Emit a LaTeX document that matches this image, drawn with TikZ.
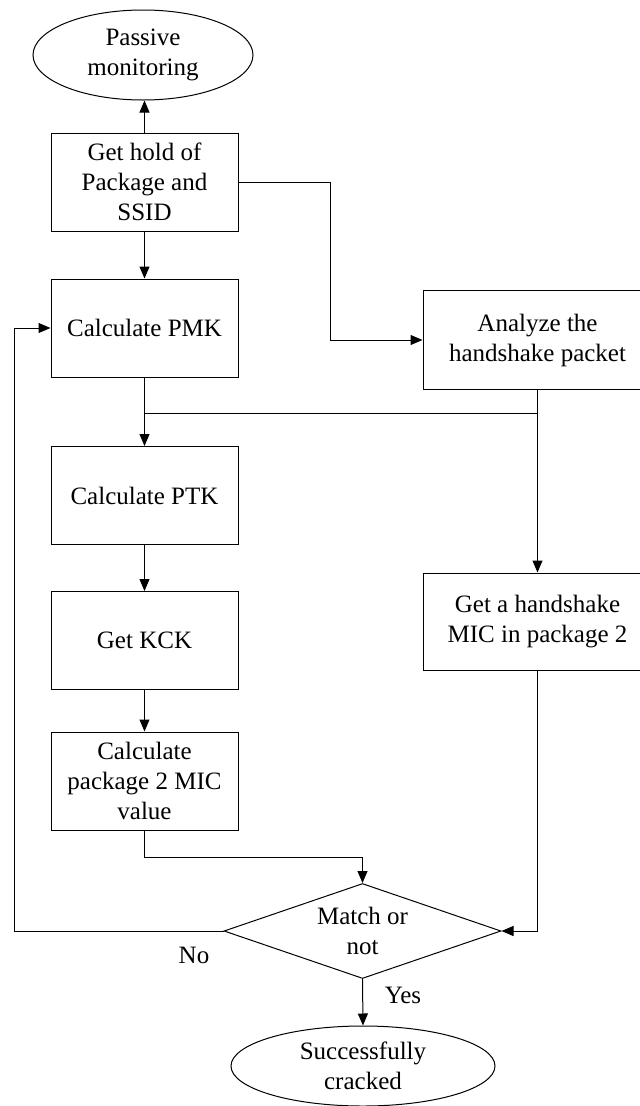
\documentclass[tikz,border=0pt]{standalone}
\usepackage{fontspec}
\setmainfont{Liberation Serif}
\usetikzlibrary{shapes.geometric,arrows.meta}
\begin{document}
\begin{tikzpicture}[x=1pt,y=1pt,
  every node/.style={font=\fontsize{25}{30}\selectfont, align=center, inner sep=0pt},
  boxl/.style={draw, line width=1pt, minimum width=187pt, minimum height=98pt},
  boxr/.style={draw, line width=1pt, minimum width=229pt, minimum height=99pt},
  oval/.style={draw, ellipse, line width=1pt},
  decide/.style={draw, diamond, line width=1pt, minimum width=277pt, minimum height=95pt, shape aspect=2.9},
  link/.style={line width=1pt},
  arr/.style={line width=1pt, -{Triangle[length=12pt,width=10pt]}}]
\useasboundingbox (0,0) rectangle (640,-1106);
\clip (0,0) rectangle (640,-1106);
% nodes
\node[oval, minimum width=220pt, minimum height=90pt] (pm) at (143,-55) {Passive\\monitoring};
\node[boxl] (gh) at (144.5,-182) {Get hold of\\Package and\\SSID};
\node[boxl] (pmk) at (144.5,-328) {Calculate PMK};
\node[boxl] (ptk) at (144.5,-495.5) {Calculate PTK};
\node[boxl] (kck) at (144.5,-640.5) {Get KCK};
\node[boxl] (cal) at (144.5,-781) {Calculate\\package 2 MIC\\value};
\node[boxr] (ana) at (537.5,-340) {Analyze the\\handshake packet};
\node[boxr, minimum height=97pt] (mic) at (537.5,-621.5) {Get a handshake\\MIC in package 2};
\node[decide] (dia) at (362.5,-931) {Match or\\not};
\node[oval, minimum width=264pt, minimum height=80pt] (sc) at (363,-1066) {Successfully\\cracked};
\node (no) at (194,-955) {No};
\node (yes) at (403,-995) {Yes};
% junctions
\coordinate (j1) at (330,-182);
\coordinate (j2) at (144.5,-413);
\coordinate (j3) at (144.5,-857);
\coordinate (j4) at (14,-931);
% connectors
\draw[arr] (gh.north) -- (gh.north |- pm.south);
\draw[arr] (gh.south) -- (pmk.north);
\draw[arr] (gh.east) -- (j1) |- (ana.west);
\draw[arr] (pmk.south) -- (ptk.north);
\draw[link] (ana.south |- j2) -- (j2);
\draw[arr] (ana.south) -- (mic.north);
\draw[arr] (ptk.south) -- (kck.north);
\draw[arr] (kck.south) -- (cal.north);
\draw[arr] (cal.south) -- (j3) -| (dia.north);
\draw[arr] (mic.south) |- (dia.east);
\draw[arr] (dia.west) -- (j4) |- (pmk.west);
\draw[arr] (dia.south) -- (sc.north);
\end{tikzpicture}
\end{document}
